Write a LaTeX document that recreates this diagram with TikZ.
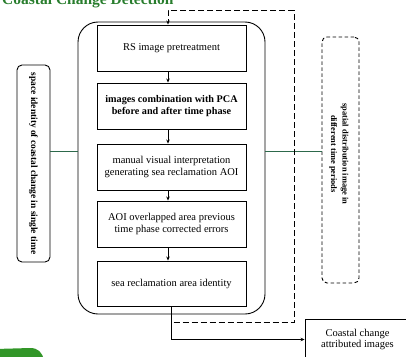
\documentclass[tikz,border=0pt]{standalone}
\usepackage{fontspec}
\setmainfont{Liberation Serif}
\usetikzlibrary{arrows.meta}
\definecolor{titlegreen}{RGB}{40,125,45}
\definecolor{linkgreen}{RGB}{45,105,75}
\definecolor{blobgreen}{RGB}{50,150,40}
\tikzset{
  stepbox/.style={draw, line width=0.9pt, minimum width=149pt, minimum height=46pt,
    inner sep=1pt, align=center, font=\fontsize{10.5}{11.5}\selectfont},
  arr/.style={line width=0.8pt, -{Stealth[length=4pt,width=3.5pt]}},
  fbline/.style={line width=1pt, dash pattern=on 6pt off 3pt},
  sidebox/.style={draw, line width=0.9pt, rounded corners=5pt, inner sep=0pt},
  sidetext/.style={rotate=-90, align=center, inner sep=0pt},
  link/.style={draw=linkgreen, line width=0.9pt},
}
\begin{document}
\begin{tikzpicture}[x=1pt,y=-1pt]
\useasboundingbox (0,0) rectangle (406,356);

% title (cut off at top, as in the reference)
\node[anchor=base west, text=titlegreen, inner sep=0pt,
      font=\bfseries\fontsize{15.5}{17}\selectfont] (title) at (2,4.5) {Coastal Change Detection};

% green tab bottom-left
\fill[blobgreen] (-5,349) -- (30,348) .. controls (38,348) and (42,352) .. (44,360) -- (-5,360) -- cycle;

% big rounded frame
\node[draw, line width=0.9pt, rounded corners=20pt, minimum width=187pt, minimum height=292pt,
      inner sep=0pt] (frame) at (171.5,168) {};

% steps
\node[stepbox] (b1) at (171.5,48) {RS image pretreatment};
\node[stepbox, font=\bfseries\fontsize{10.2}{11.5}\selectfont] (b2) at (171.5,106) {images combination with PCA\\before and after time phase};
\node[stepbox] (b3) at (171.5,167) {manual visual interpretation\\generating sea reclamation AOI};
\node[stepbox] (b4) at (171.5,224) {AOI overlapped area previous\\time phase corrected errors};
\node[stepbox, minimum height=45pt] (b5) at (171.5,283.5) {sea reclamation area identity};

\draw[arr] ([xshift=-3.5pt]b1.south) -- ([xshift=-3.5pt]b2.north);
\draw[arr] ([xshift=-3.5pt]b2.south) -- ([xshift=-3.5pt]b3.north);
\draw[arr] ([xshift=-3.5pt]b3.south) -- ([xshift=-3.5pt]b4.north);
\draw[arr] ([xshift=-3.5pt]b4.south) -- ([xshift=-3.5pt]b5.north);

% side boxes
\node[sidebox, minimum width=33pt, minimum height=197pt] (lbox) at (33.5,163.5) {};
\node[sidetext, font=\bfseries\fontsize{9.4}{11}\selectfont] (ltext) at (lbox.center) {space identity of coastal change in single time};

\node[sidebox, dash pattern=on 3.5pt off 2.5pt, minimum width=37pt, minimum height=246pt] (rbox) at (340.5,160) {};
\node[sidetext, font=\bfseries\fontsize{8.4}{11.5}\selectfont] (rtext) at (339,154) {spatial distribution image in\\different time periods};

\coordinate (gl) at (0,151);
\draw[link] (lbox.east |- gl) -- (frame.west |- gl);
\draw[link] (frame.east |- gl) -- (rbox.west |- gl);

% output box
\node[draw, line width=0.9pt, minimum width=105pt, minimum height=41pt, inner sep=0pt, align=center,
      font=\fontsize{10.5}{11.5}\selectfont] (out) at (357.5,339.5) {Coastal change\\attributed images};
\draw[arr] (b5.south) |- (out.west);

% feedback dashed loop
\coordinate (fbA) at (173.5,322);
\coordinate (fbB) at (294,10);
\draw[fbline] (fbA) -| (fbB);
\draw[fbline, -{Stealth[length=4pt,width=3.5pt]}] (fbB) -| ([xshift=-3.5pt]b1.north);
\end{tikzpicture}
\end{document}
